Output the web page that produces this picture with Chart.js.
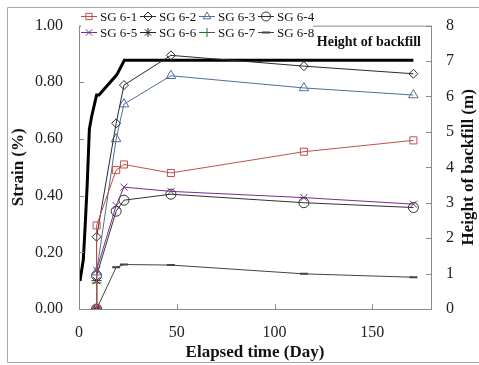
<!DOCTYPE html>
<html>
<head>
<meta charset="utf-8">
<script src="https://cdn.jsdelivr.net/npm/chart.js@4.4.1/dist/chart.umd.min.js"></script>
<style>
  html, body { margin: 0; padding: 0; background: #fff; }
  #wrap { width: 479px; height: 365px; }
</style>
</head>
<body>
<div id="wrap"><canvas id="chart" width="479" height="365"></canvas></div>
<script>
// strain gauge readings (day, %)
const gaugeDays = [9, 9, 19, 23, 47, 115, 171];
const sg61 = [0, 0.295, 0.49, 0.51, 0.48, 0.555, 0.595];
const sg62 = [0, 0.255, 0.655, 0.79, 0.895, 0.857, 0.83];
const sg63 = [0, 0.13, 0.60, 0.723, 0.823, 0.78, 0.755];
const sg64 = [0, 0.118, 0.345, 0.384, 0.405, 0.375, 0.358];
const sg65 = [0, 0.137, 0.365, 0.43, 0.415, 0.393, 0.37];
const sg68 = [0, null, 0.147, 0.157, 0.155, 0.124, 0.112];
const shortDays = [9, 9];
const sg66 = [0, 0.1];
const sg67 = [0, 0.092];

// backfill height (m) on the right axis
const backfillDays = [0.5, 2.2, 3.1, 4.2, 5.3, 6.5, 9.0, 10.2, 19.3, 23.2, 171];
const backfillHeight = [0.79, 1.39, 2.29, 3.52, 5.08, 5.44, 6.04, 6.04, 6.61, 7.02, 7.02];

const strainTicks = [0, 0.2, 0.4, 0.6, 0.8, 1.0];
const heightTicks = [0, 1, 2, 3, 4, 5, 6, 7, 8];
const dayTicks = [0, 50, 100, 150];

const serif = "'Liberation Serif', 'Times New Roman', serif";

function pts(xs, ys) {
    return xs.map((x, i) => ({ x: x, y: ys[i] })).filter(p => p.y !== null);
}

const series = [
    { label: 'SG 6-1', xs: gaugeDays, ys: sg61, color: '#c0504d', style: 'rect', r: 5 },
    { label: 'SG 6-2', xs: gaugeDays, ys: sg62, color: '#2a2a2a', style: 'rectRot', r: 4.5 },
    { label: 'SG 6-3', xs: gaugeDays, ys: sg63, color: '#4f6e99', style: 'triangle', r: 5.5 },
    { label: 'SG 6-4', xs: gaugeDays, ys: sg64, color: '#333333', style: 'circle', r: 5 },
    { label: 'SG 6-5', xs: gaugeDays, ys: sg65, color: '#7b2e8e', style: 'crossRot', r: 5 },
    { label: 'SG 6-6', xs: shortDays, ys: sg66, color: '#222222', style: 'star', r: 5 },
    { label: 'SG 6-7', xs: shortDays, ys: sg67, color: '#2f6b2f', style: 'cross', r: 5 },
    { label: 'SG 6-8', xs: gaugeDays, ys: sg68, color: '#444444', style: 'line', r: 4 }
];

const datasets = series.map(s => ({
    label: s.label,
    data: pts(s.xs, s.ys),
    yAxisID: 'y',
    borderColor: s.color,
    borderWidth: 1,
    pointStyle: s.style,
    pointRadius: s.r,
    pointBorderColor: s.color,
    pointBorderWidth: s.style === 'line' ? 2 : 1,
    pointBackgroundColor: 'rgba(0,0,0,0)',
    tension: 0
}));

datasets.push({
    label: 'Height of backfill',
    data: pts(backfillDays, backfillHeight),
    yAxisID: 'y2',
    borderColor: '#000',
    borderWidth: 3,
    pointRadius: 0,
    tension: 0
});

// frame, plot border, inward ticks, legend and labels
const decor = {
    id: 'decor',
    beforeDraw(chart) {
        const ctx = chart.ctx;
        ctx.save();
        ctx.strokeStyle = '#a8a8a8';
        ctx.lineWidth = 1;
        ctx.beginPath();
        ctx.moveTo(479, 7.5); ctx.lineTo(7.5, 7.5); ctx.lineTo(7.5, 362.5); ctx.lineTo(479, 362.5);
        ctx.stroke();
        ctx.restore();
    },
    afterDraw(chart) {
        const ctx = chart.ctx;
        const a = chart.chartArea;
        const sx = chart.scales.x, sy = chart.scales.y, sy2 = chart.scales.y2;
        ctx.save();
        ctx.strokeStyle = '#8a8a8a';
        ctx.lineWidth = 1;
        ctx.strokeRect(a.left + 0.5, a.top + 0.5, a.right - a.left, a.bottom - a.top);
        ctx.beginPath();
        strainTicks.forEach(v => {
            const y = Math.round(sy.getPixelForValue(v)) + 0.5;
            ctx.moveTo(a.left, y); ctx.lineTo(a.left + 5, y);
        });
        heightTicks.forEach(v => {
            const y = Math.round(sy2.getPixelForValue(v)) + 0.5;
            ctx.moveTo(a.right, y); ctx.lineTo(a.right - 5, y);
        });
        dayTicks.forEach(v => {
            const x = Math.round(sx.getPixelForValue(v)) + 0.5;
            ctx.moveTo(x, a.bottom); ctx.lineTo(x, a.bottom - 5);
        });
        ctx.stroke();

        // legend box
        ctx.fillStyle = '#fff';
        ctx.fillRect(81, 8, 232, 33);
        ctx.font = '13px ' + serif;
        ctx.textBaseline = 'middle';
        ctx.textAlign = 'left';
        const colX = [81, 140, 199, 258];
        const rowY = [16.5, 32.5];
        series.forEach((s, i) => {
            const x = colX[i % 4], y = rowY[Math.floor(i / 4)];
            ctx.strokeStyle = s.color;
            ctx.lineWidth = 1;
            ctx.beginPath();
            ctx.moveTo(x, y); ctx.lineTo(x + 16, y);
            ctx.stroke();
            if (Chart.helpers && Chart.helpers.drawPoint) {
                ctx.fillStyle = 'rgba(0,0,0,0)';
                ctx.lineWidth = s.style === 'line' ? 2 : 1;
                Chart.helpers.drawPoint(ctx, { pointStyle: s.style, radius: Math.min(s.r, 4.5), rotation: 0, borderWidth: ctx.lineWidth }, x + 8, y);
            }
            ctx.fillStyle = '#111';
            ctx.fillText(s.label, x + 19, y + 1);
        });

        // backfill label
        ctx.font = 'bold 14px ' + serif;
        ctx.textAlign = 'right';
        ctx.fillStyle = '#111';
        ctx.fillText('Height of backfill', 421, 42);

        // right axis title, reading bottom to top
        ctx.translate(469, (a.top + a.bottom) / 2);
        ctx.rotate(-Math.PI / 2);
        ctx.textAlign = 'center';
        ctx.font = 'bold 17px ' + serif;
        ctx.fillText('Height of backfill (m)', 0, 0);
        ctx.restore();
    }
};

new Chart(document.getElementById('chart'), {
    type: 'line',
    data: { datasets: datasets },
    plugins: [decor],
    options: {
        responsive: false,
        animation: false,
        layout: { padding: { top: 16, left: 0, right: 0, bottom: 0 } },
        plugins: { legend: { display: false }, tooltip: { enabled: false } },
        scales: {
            x: {
                type: 'linear',
                min: 0, max: 180,
                grid: { display: false, drawTicks: false },
                border: { display: false },
                afterFit: s => { s.height = 56; },
                ticks: { stepSize: 50, includeBounds: false, padding: 14, color: '#222', font: { family: serif, size: 16 } },
                title: { display: true, text: 'Elapsed time (Day)', color: '#111', padding: { top: 0, bottom: 2 }, font: { family: serif, size: 17, weight: 'bold' } }
            },
            y: {
                position: 'left',
                min: 0, max: 1,
                grid: { display: false, drawTicks: false },
                border: { display: false },
                afterFit: s => { s.width = 79; },
                ticks: { stepSize: 0.2, padding: 16, color: '#222', font: { family: serif, size: 16 }, callback: v => v.toFixed(2) },
                title: { display: true, text: 'Strain (%)', color: '#111', padding: { top: 8, bottom: 0 }, font: { family: serif, size: 17, weight: 'bold' } }
            },
            y2: {
                position: 'right',
                min: 0, max: 8,
                grid: { display: false, drawTicks: false },
                border: { display: false },
                afterFit: s => { s.width = 48; },
                ticks: { stepSize: 1, padding: 15, color: '#222', font: { family: serif, size: 16 } }
            }
        }
    }
});
</script>
</body>
</html>
